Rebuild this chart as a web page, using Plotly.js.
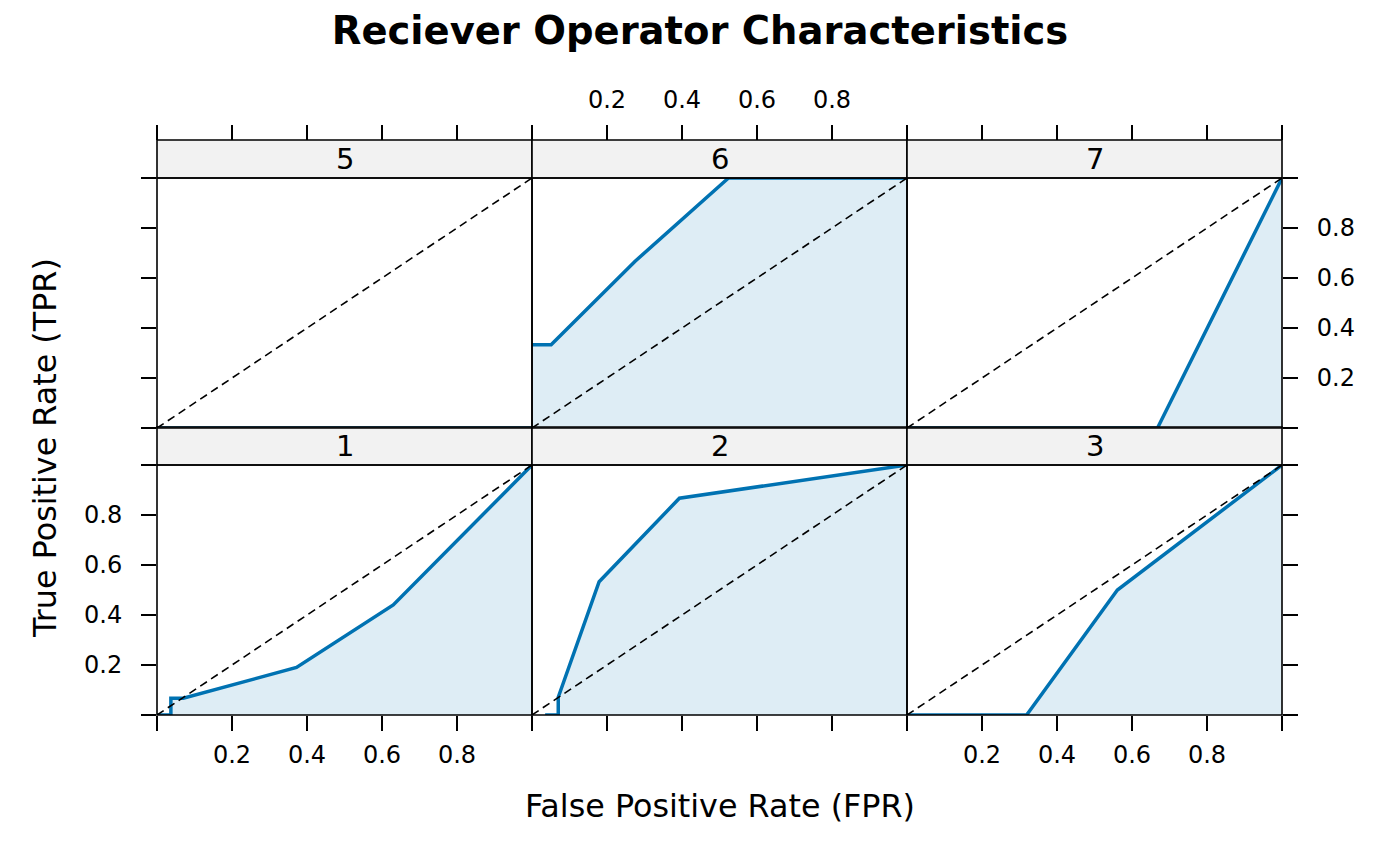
<!DOCTYPE html>
<html>
<head>
<meta charset="utf-8">
<script src="https://cdn.plot.ly/plotly-3.0.1.min.js"></script>
<style>html,body{margin:0;padding:0;background:#fff;}#chart{width:1400px;height:865px;}</style>
</head>
<body>
<div id="chart"></div>
<script>
// ---- data ----
const panelLabels = ['1', '2', '3', '5', '6', '7'];
const fpr1 = [0, 0.037, 0.037, 0.070, 0.372, 0.630, 1.0];
const tpr1 = [0, 0, 0.067, 0.067, 0.190, 0.440, 1.0];
const fpr2 = [0.035, 0.070, 0.070, 0.179, 0.393, 1.0];
const tpr2 = [0, 0, 0.071, 0.533, 0.867, 1.0];
const fpr3 = [0, 0.319, 0.561, 1.0];
const tpr3 = [0, 0, 0.500, 1.0];
const fpr5 = [0, 1.0];
const tpr5 = [0, 0];
const fpr6 = [0, 0.051, 0.275, 0.524, 1.0];
const tpr6 = [0.333, 0.333, 0.667, 1.0, 1.0];
const fpr7 = [0, 0.668, 1.0];
const tpr7 = [0, 0, 1.0];
const diagX = [0, 1];
const diagY = [0, 1];
const tickVals = [0, 0.2, 0.4, 0.6, 0.8, 1.0];
const tickText = ['', '0.2', '0.4', '0.6', '0.8', ''];
const blankText = ['', '', '', '', '', ''];
const titleText = 'Reciever Operator Characteristics';
const xTitle = 'False Positive Rate (FPR)';
const yTitle = 'True Positive Rate (TPR)';

// ---- layout geometry ----
const W = 1400, H = 865;
const FONT = 'DejaVu Sans';
const colPx = [[157, 532], [532, 907], [907, 1282]];
const rowPx = { bottom: [465, 715], top: [178, 428] };
const stripH = 38;
const xd = c => [colPx[c][0] / W, colPx[c][1] / W];
const yd = r => [1 - rowPx[r][1] / H, 1 - rowPx[r][0] / H];

const series = [
  { x: fpr1, y: tpr1, xa: 'x', ya: 'y' },
  { x: fpr2, y: tpr2, xa: 'x2', ya: 'y2' },
  { x: fpr3, y: tpr3, xa: 'x3', ya: 'y3' },
  { x: fpr5, y: tpr5, xa: 'x4', ya: 'y4' },
  { x: fpr6, y: tpr6, xa: 'x5', ya: 'y5' },
  { x: fpr7, y: tpr7, xa: 'x6', ya: 'y6' }
];

const traces = [];
series.forEach(s => {
  traces.push({
    type: 'scatter', mode: 'lines', x: s.x, y: s.y, xaxis: s.xa, yaxis: s.ya,
    fill: 'tozeroy', fillcolor: 'rgba(0,114,178,0.13)',
    line: { color: '#0072B2', width: 3.5 }, hoverinfo: 'skip', showlegend: false
  });
  traces.push({
    type: 'scatter', mode: 'lines', x: diagX, y: diagY, xaxis: s.xa, yaxis: s.ya,
    line: { color: '#000', width: 1.6, dash: '8px,5px' }, hoverinfo: 'skip', showlegend: false
  });
});

const tickFont = { family: FONT, size: 24, color: '#000' };
function xAxis(c, row, labels) {
  const a = {
    domain: xd(c), range: [0, 1], tickvals: tickVals,
    ticktext: labels ? tickText : blankText,
    ticks: 'outside', ticklen: 15, tickwidth: 1.6, tickcolor: '#000',
    showgrid: false, zeroline: false, showline: false, fixedrange: true,
    tickfont: tickFont
  };
  if (row === 'top') {
    a.anchor = 'free';
    a.position = 1 - (rowPx.top[0] - stripH) / H;
    a.side = 'top';
    a.ticklabelstandoff = 7;
  } else {
    a.side = 'bottom';
    a.ticklabelstandoff = 3;
  }
  return a;
}
function yAxis(r, side, labels) {
  const a = {
    domain: yd(r), range: [0, 1], tickvals: tickVals,
    ticktext: labels ? tickText : blankText,
    ticks: side ? 'outside' : '', ticklen: 15, tickwidth: 1.6, tickcolor: '#000',
    showgrid: false, zeroline: false, showline: false, fixedrange: true,
    tickfont: tickFont, ticklabelstandoff: 14
  };
  if (side) a.side = side;
  return a;
}

const layout = {
  width: W, height: H,
  margin: { l: 0, r: 0, t: 0, b: 0, pad: 0 },
  paper_bgcolor: '#fff', plot_bgcolor: '#fff',
  showlegend: false,
  font: { family: FONT, color: '#000' },
  title: {
    text: '<b>' + titleText + '</b>', x: 0.5, xanchor: 'center',
    y: 1 - 31 / H, yanchor: 'middle', yref: 'paper',
    font: { family: FONT, size: 38.5, color: '#000' }
  },
  xaxis: Object.assign(xAxis(0, 'bottom', true), { anchor: 'y' }),
  xaxis2: Object.assign(xAxis(1, 'bottom', false), { anchor: 'y2' }),
  xaxis3: Object.assign(xAxis(2, 'bottom', true), { anchor: 'y3' }),
  xaxis4: xAxis(0, 'top', false),
  xaxis5: xAxis(1, 'top', true),
  xaxis6: xAxis(2, 'top', false),
  yaxis: Object.assign(yAxis('bottom', 'left', true), { anchor: 'x' }),
  yaxis2: Object.assign(yAxis('bottom', null, false), { anchor: 'x2' }),
  yaxis3: Object.assign(yAxis('bottom', 'right', false), { anchor: 'x3' }),
  yaxis4: Object.assign(yAxis('top', 'left', false), { anchor: 'x4' }),
  yaxis5: Object.assign(yAxis('top', null, false), { anchor: 'x5' }),
  yaxis6: Object.assign(yAxis('top', 'right', true), { anchor: 'x6' }),
  shapes: [],
  annotations: [
    { text: xTitle, xref: 'paper', yref: 'paper', x: (colPx[0][0] + colPx[2][1]) / 2 / W, y: 1 - 805 / H,
      xanchor: 'center', yanchor: 'middle', showarrow: false, font: { family: FONT, size: 31.8, color: '#000' } },
    { text: yTitle, xref: 'paper', yref: 'paper', x: 45 / W, y: 1 - 448 / H, textangle: -90,
      xanchor: 'center', yanchor: 'middle', showarrow: false, font: { family: FONT, size: 31.8, color: '#000' } }
  ]
};

const axNames = ['', '2', '3', '4', '5', '6'];
axNames.forEach((n, i) => {
  const row = i < 3 ? 'bottom' : 'top';
  const top = 1 - rowPx[row][0] / H;
  // strip
  layout.shapes.push({
    type: 'rect', xref: 'x' + n + ' domain', yref: 'paper', x0: 0, x1: 1,
    y0: top, y1: top + stripH / H, fillcolor: '#F2F2F2', line: { color: '#000', width: 1.6 }, layer: 'above'
  });
  // panel border
  layout.shapes.push({
    type: 'rect', xref: 'x' + n + ' domain', yref: 'y' + n + ' domain', x0: 0, x1: 1, y0: 0, y1: 1,
    line: { color: '#000', width: 1.6 }, layer: 'above'
  });
  layout.annotations.push({
    text: panelLabels[i], xref: 'x' + n + ' domain', yref: 'paper', x: 0.5, y: top + stripH / 2 / H,
    xanchor: 'center', yanchor: 'middle', showarrow: false, font: { family: FONT, size: 29, color: '#000' }
  });
});

Plotly.newPlot('chart', traces, layout, { staticPlot: true, displayModeBar: false });
</script>
</body>
</html>
